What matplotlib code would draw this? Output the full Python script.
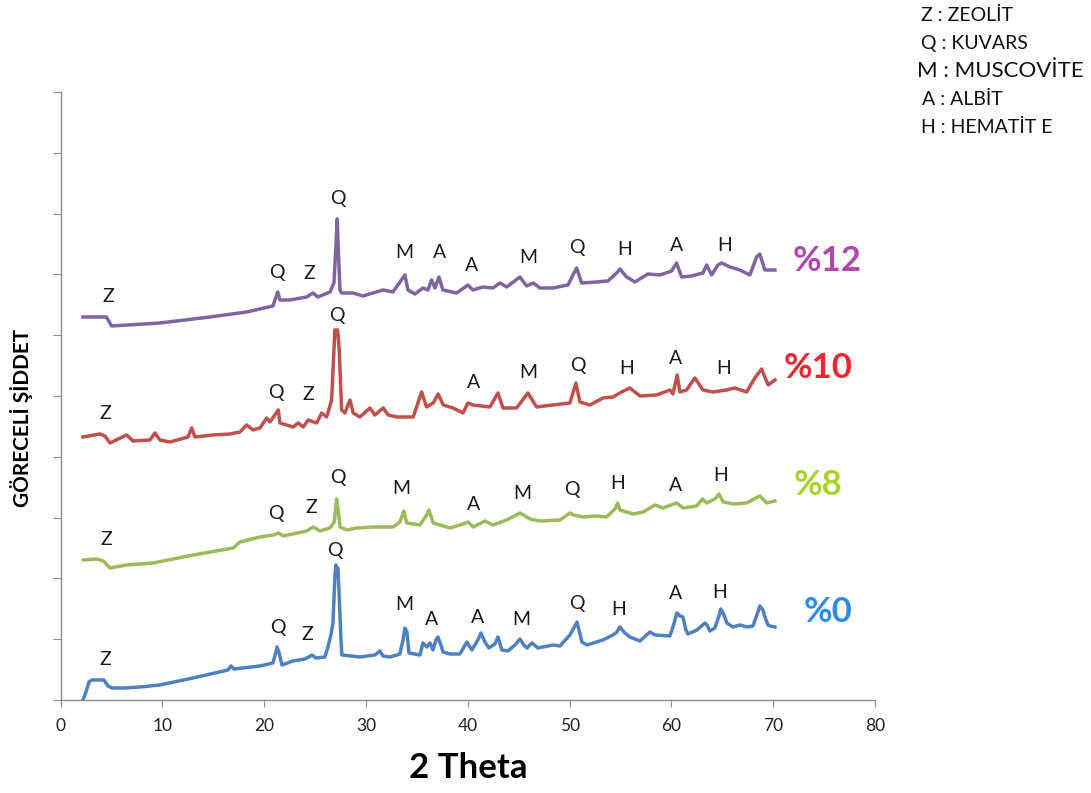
import matplotlib
matplotlib.use('Agg')
import matplotlib.pyplot as plt
import numpy as np

plt.rcParams['font.family'] = ['Lato', 'DejaVu Sans']

# ---------------- data (2 theta, relative intensity) ----------------
tt_0 = [2.19, 2.49, 2.78, 3.07, 4.25, 4.65, 5.04, 6.32, 7.79, 9.75, 13.0, 15.16, 16.43, 16.73, 17.02,
        19.58, 20.85, 21.15, 21.25, 21.44, 21.74, 22.82, 24.0, 24.39, 24.68, 25.08, 25.96, 26.26, 26.55,
        26.75, 26.95, 27.04, 27.14, 27.24, 27.34, 27.54, 27.63, 29.40, 30.87, 31.37, 31.66, 32.35, 33.33,
        33.63, 33.82, 34.02, 34.22, 35.30, 35.59, 35.98, 36.28, 36.57, 36.87, 37.06, 37.36, 37.56, 38.24,
        39.22, 39.91, 40.40, 40.99, 41.29, 41.68, 42.07, 42.66, 42.96, 43.35, 43.94, 44.63, 45.12, 45.51,
        45.81, 46.30, 46.89, 48.36, 49.05, 50.03, 50.52, 50.72, 50.92, 51.21, 51.70, 53.27, 54.26, 54.65,
        54.94, 55.43, 55.92, 56.91, 57.89, 58.38, 59.85, 60.15, 60.54, 60.84, 61.13, 61.43, 61.62, 62.51,
        63.29, 63.49, 63.78, 64.27, 64.67, 64.86, 65.16, 65.45, 66.04, 66.73, 67.42, 68.01, 68.40, 68.69,
        68.99, 69.19, 69.48, 69.68, 70.17]
int_0 = [0, 8, 18, 20, 20, 14, 12, 12, 13, 15, 22, 27, 30, 34, 31,
         34, 37, 48, 53, 48, 35, 39, 41, 43, 45, 42, 43, 53, 65,
         77, 125, 135, 130, 132, 110, 60, 45, 43, 45, 49, 44, 43, 46,
         60, 72, 68, 47, 45, 57, 53, 57, 50, 60, 63, 55, 48, 46,
         46, 58, 50, 60, 67, 58, 52, 56, 63, 50, 49, 55, 61, 55,
         52, 57, 52, 55, 54, 65, 74, 78, 70, 58, 55, 60, 65, 68,
         73, 67, 63, 59, 68, 65, 64, 73, 87, 84, 83, 70, 66, 70,
         77, 75, 69, 72, 84, 91, 85, 77, 73, 75, 73, 74, 85, 94,
         90, 83, 75, 74, 73]

tt_8 = [2.22, 3.54, 4.18, 4.84, 6.48, 9.10, 13.03, 16.95, 17.61, 19.58, 20.88, 21.38, 21.87, 24.17,
        24.81, 25.47, 26.45, 26.88, 27.11, 27.27, 27.44, 28.09, 29.08, 30.71, 32.67, 33.33, 33.72, 33.99,
        35.30, 35.95, 36.18, 36.60, 38.24, 39.22, 40.04, 40.53, 41.68, 42.49, 43.81, 45.12, 46.10, 47.09,
        49.05, 50.03, 50.36, 51.34, 52.65, 53.63, 54.45, 54.72, 54.94, 56.25, 57.23, 58.38, 59.19, 60.51,
        61.16, 62.48, 63.06, 63.46, 64.27, 64.67, 65.09, 66.07, 67.39, 68.69, 69.35, 70.17]
int_8 = [140, 141, 139, 132, 135, 137, 145, 152, 158, 163, 165, 167, 164, 169,
         173, 169, 172, 178, 201, 190, 173, 170, 172, 173, 173, 178, 189, 177,
         175, 185, 190, 177, 172, 175, 178, 173, 179, 175, 180, 187, 181, 179,
         180, 187, 185, 183, 184, 183, 191, 197, 190, 186, 188, 195, 192, 197,
         192, 194, 201, 197, 201, 206, 198, 196, 197, 204, 197, 199]

tt_10 = [2.19, 3.86, 4.35, 4.84, 6.48, 7.10, 8.77, 9.26, 9.75, 10.74, 12.51, 12.87, 13.19, 14.96,
         16.63, 17.61, 18.27, 18.89, 19.58, 20.24, 20.56, 21.38, 21.54, 22.85, 23.34, 23.83, 24.32,
         25.15, 25.64, 26.13, 26.62, 26.94, 27.21, 27.37, 27.60, 27.93, 28.42, 28.74, 29.40, 30.38,
         30.87, 31.69, 32.18, 33.01, 34.64, 35.46, 35.95, 36.60, 37.09, 37.58, 38.54, 39.52, 40.01,
         40.50, 42.17, 42.96, 43.45, 44.79, 45.90, 46.76, 48.36, 50.03, 50.62, 51.01, 51.99, 53.27,
         54.26, 55.11, 55.92, 56.91, 58.55, 59.85, 60.15, 60.57, 60.84, 61.49, 62.31, 63.10, 64.08,
         65.42, 66.24, 67.39, 68.20, 68.86, 69.18, 69.51, 70.17]
int_10 = [263, 266, 264, 257, 265, 259, 260, 267, 260, 258, 263, 272, 263, 265,
          266, 268, 275, 270, 272, 282, 278, 290, 277, 273, 277, 273, 280,
          277, 287, 283, 300, 370, 370, 350, 290, 287, 300, 287, 283, 292,
          285, 292, 285, 283, 283, 308, 293, 297, 306, 295, 292, 287, 297,
          295, 293, 307, 292, 292, 307, 293, 295, 297, 317, 298, 295, 302,
          303, 308, 312, 304, 305, 310, 306, 325, 308, 310, 322, 310, 308,
          310, 312, 308, 322, 331, 323, 315, 320]

tt_12 = [2.19, 4.49, 5.01, 9.75, 14.67, 18.27, 20.85, 21.32, 21.54, 22.52, 24.17, 24.78, 25.27,
         26.46, 26.85, 27.04, 27.17, 27.27, 27.44, 27.60, 28.71, 29.70, 31.66, 32.64, 33.82, 34.12,
         34.80, 35.59, 36.08, 36.44, 36.77, 37.16, 37.55, 38.90, 40.01, 40.50, 41.48, 42.47, 43.16,
         43.81, 45.12, 45.78, 46.43, 47.09, 48.36, 49.84, 50.33, 50.69, 51.18, 52.65, 53.76, 54.62,
         54.94, 55.60, 56.42, 57.20, 57.69, 58.87, 60.02, 60.51, 61.00, 61.98, 63.09, 63.46, 63.95,
         64.57, 64.93, 65.75, 66.73, 67.71, 68.37, 68.69, 69.18, 70.17]
int_12 = [383, 383, 374, 377, 383, 388, 394, 408, 400, 400, 403, 407, 403,
          408, 417, 453, 481, 453, 410, 407, 407, 404, 410, 408, 425, 410,
          406, 412, 410, 420, 412, 423, 410, 407, 415, 410, 413, 412, 417,
          413, 423, 414, 417, 412, 412, 415, 425, 432, 417, 418, 419, 427,
          431, 423, 418, 423, 426, 425, 429, 437, 423, 424, 427, 435, 425,
          435, 437, 433, 430, 425, 443, 446, 430, 430]

series_names = ['%0', '%8', '%10', '%12']

# phase-label annotations: (letter, 2theta, intensity)
labels_0 = [('Z', 4.35, 40), ('Q', 21.35, 72), ('Z', 24.2, 65), ('Q', 26.95, 149), ('M', 33.8, 95),
            ('A', 36.4, 80), ('A', 41.0, 82), ('M', 45.2, 80), ('Q', 50.7, 96), ('H', 54.8, 90),
            ('A', 60.4, 106), ('H', 64.7, 107)]
labels_8 = [('Z', 4.45, 160), ('Q', 21.15, 186), ('Z', 24.6, 192), ('Q', 27.2, 222), ('M', 33.5, 211),
            ('A', 40.6, 195), ('M', 45.3, 206), ('Q', 50.2, 210), ('H', 54.7, 216), ('A', 60.4, 214),
            ('H', 64.8, 224)]
labels_10 = [('Z', 4.35, 286), ('Q', 21.15, 307), ('Z', 24.3, 305), ('Q', 27.15, 384), ('A', 40.6, 317),
             ('M', 45.9, 327), ('Q', 50.8, 334), ('H', 55.6, 331), ('A', 60.4, 341), ('H', 65.1, 331)]
labels_12 = [('Z', 4.65, 403), ('Q', 21.25, 427), ('Z', 24.4, 426), ('Q', 27.2, 501), ('M', 33.8, 447),
             ('A', 37.2, 447), ('A', 40.4, 434), ('M', 45.9, 442), ('Q', 50.7, 452), ('H', 55.4, 450),
             ('A', 60.5, 454), ('H', 65.2, 454)]

legend_lines = ['Z : ZEOLİT', 'Q : KUVARS', 'M : MUSCOVİTE', 'A : ALBİT', 'H : HEMATİT E']

# ---------------- styling ----------------
line_colors = ['#4F81BD', '#9BBB59', '#C0504D', '#8064A2']
name_colors = ['#2A8CF0', '#A8D42A', '#EE2630', '#B048B0']
name_pos = [(75.4, 88), (74.4, 215), (74.4, 332), (75.3, 439)]

fig = plt.figure(figsize=(10.91, 7.93), dpi=100)
ax = fig.add_axes([0.0556, 0.1173, 0.7464, 0.7667])

all_x = [tt_0, tt_8, tt_10, tt_12]
all_y = [int_0, int_8, int_10, int_12]
all_labels = [labels_0, labels_8, labels_10, labels_12]

for xs, ys, c in zip(all_x, all_y, line_colors):
    ax.plot(xs, ys, color=c, lw=2.5, solid_joinstyle='round')

for labs in all_labels:
    for letter, x, y in labs:
        ax.text(x, y, letter, ha='center', va='center', fontsize=14, color='#1a1a1a')

for name, (x, y), c in zip(series_names, name_pos, name_colors):
    ax.text(x, y, name, ha='center', va='center', fontsize=25, fontweight='bold', color=c)

ax.set_xlim(0, 80)
ax.set_ylim(0, 608)
ax.set_xticks(np.arange(0, 81, 10))
ax.set_yticks(np.linspace(0, 608, 11))
ax.set_yticklabels([])
for s in ['top', 'right']:
    ax.spines[s].set_visible(False)
for s in ['left', 'bottom']:
    ax.spines[s].set_color('#8c8c8c')
    ax.spines[s].set_linewidth(1.0)
ax.tick_params(axis='x', direction='out', length=5, color='#8c8c8c', labelsize=12.5,
               labelcolor='#222222', pad=8)
ax.tick_params(axis='y', direction='out', length=6, color='#8c8c8c')
ax.set_xlabel('2 Theta', fontsize=25, fontweight='bold', labelpad=13)

fig.text(22 / 1091, 1 - 418 / 793, 'GÖRECELİ ŞİDDET', rotation=90, ha='center', va='center',
         fontsize=15, fontweight='bold')

leg_x = [921, 921, 917, 922, 921]
leg_y = [15, 43, 71, 99, 127]
leg_size = [14, 14, 16, 14, 14]
for t, x, y, s in zip(legend_lines, leg_x, leg_y, leg_size):
    fig.text(x / 1091, 1 - y / 793, t, ha='left', va='center', fontsize=s, color='#111111')

fig.savefig('out.png', dpi=100)
